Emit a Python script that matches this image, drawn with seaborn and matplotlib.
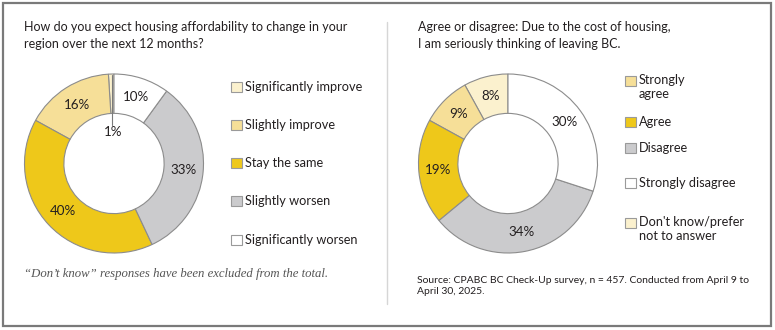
import matplotlib
matplotlib.use("Agg")
import matplotlib.pyplot as plt
from matplotlib.patches import Rectangle
from matplotlib.lines import Line2D
import numpy as np
import seaborn as sns

# ---------------- data ----------------
left_title = "How do you expect housing affordability to change in your\nregion over the next 12 months?"
left_categories = ["Significantly improve", "Slightly improve", "Stay the same",
                   "Slightly worsen", "Significantly worsen"]
left_values = [1, 16, 40, 33, 10]
left_colors = ["#FBF1CE", "#F6DF98", "#EEC81A", "#CBCBCD", "#FFFFFF"]

right_title = "Agree or disagree: Due to the cost of housing,\nI am seriously thinking of leaving BC."
right_categories = ["Strongly\nagree", "Agree", "Disagree", "Strongly disagree",
                    "Don't know/prefer\nnot to answer"]
right_values = [9, 19, 34, 30, 8]
right_colors = ["#F6DF98", "#EEC81A", "#CBCBCD", "#FFFFFF", "#FBF1CE"]
right_plot_order = [4, 0, 1, 2, 3]   # counter-clockwise from 12 o'clock

footnote = "\u201cDon\u2019t know\u201d responses have been excluded from the total."
source = "Source: CPABC BC Check-Up survey, n = 457. Conducted from April 9 to\nApril 30, 2025."

# ---------------- style ----------------
sns.set_theme(style="white")
plt.rcParams["font.family"] = ["Lato", "DejaVu Sans"]

W, H = 775, 330
fig = plt.figure(figsize=(W / 100, H / 100), dpi=100)
fig.patch.set_facecolor("white")


def fx(x):
    return x / W


def fy(y):
    return 1 - y / H


EDGE = "#8c8c8c"
TXT = "#231f20"

# border and divider
fig.patches.append(Rectangle((fx(2.5), fy(326)), fx(771) - fx(2.5), fy(2.5) - fy(326),
                             transform=fig.transFigure, fill=False,
                             edgecolor="#7a7a7a", linewidth=1.6))
fig.lines.append(Line2D([fx(386.5), fx(386.5)], [fy(22), fy(304)],
                        transform=fig.transFigure, color="#d6d6d6", linewidth=1.0))


def donut(cx, cy, values, colors, R=89.5):
    ax = fig.add_axes([fx(cx - 90), fy(cy + 90), 180 / W, 180 / H])
    wedges, texts, autotexts = ax.pie(
        values, colors=colors, startangle=90, counterclock=True,
        radius=R / 90,
        wedgeprops=dict(width=0.44 * R / 90, edgecolor=EDGE, linewidth=0.8),
        autopct=lambda p: f"{int(round(p))}%", pctdistance=0.78,
        textprops=dict(fontsize=9.6, color=TXT))
    ax.set_xlim(-1, 1)
    ax.set_ylim(-1, 1)
    ax.set_aspect("equal")
    ax.axis("off")
    return ax, wedges, autotexts


# left donut
axL, wL, tL = donut(114, 163.5, left_values, left_colors)
for w, t, v in zip(wL, tL, left_values):
    if v < 3:
        mid = np.deg2rad((w.theta1 + w.theta2) / 2)
        r = w.r
        x = np.cos(mid) * r
        axL.plot([x + 0.01, x + 0.01], [r * 0.99, r * 0.43], color="#7a7a7a", lw=0.8)
        t.set_position((x + 0.02, 0.35))
        t.set_ha("center")

# right donut
rv = [right_values[i] for i in right_plot_order]
rc = [right_colors[i] for i in right_plot_order]
axR, wR, tR = donut(508, 163.5, rv, rc)

# titles
fig.text(fx(24), fy(21), left_title, ha="left", va="top", fontsize=9.0,
         color=TXT, linespacing=1.45)
fig.text(fx(418), fy(21), right_title, ha="left", va="top", fontsize=9.0,
         color=TXT, linespacing=1.45)


def legend_item(x, y, label, color, text_x):
    fig.patches.append(Rectangle((fx(x), fy(y + 5)), 11 / W, 10 / H,
                                 transform=fig.transFigure, facecolor=color,
                                 edgecolor="#9a9a9a", linewidth=0.8))
    fig.text(fx(text_x), fy(y), label, ha="left", va="center",
             fontsize=9.2, color=TXT, linespacing=1.3)


# left legend
left_rows = [87, 125, 163, 201, 240]
for lab, col, y in zip(left_categories, left_colors, left_rows):
    legend_item(230.5, y, lab, col, 245)

# right legend
right_rows = [81, 122, 148, 183, 223]
for lab, col, y in zip(right_categories, right_colors, right_rows):
    if "\n" in lab:
        fig.patches.append(Rectangle((fx(624.5), fy(y + 5)), 11 / W, 10 / H,
                                     transform=fig.transFigure, facecolor=col,
                                     edgecolor="#9a9a9a", linewidth=0.8))
        fig.text(fx(639), fy(y - 7.5), lab, ha="left", va="top",
                 fontsize=9.2, color=TXT, linespacing=1.3)
    else:
        legend_item(624.5, y, lab, col, 639)

# footnotes
fig.text(fx(24), fy(274), footnote, ha="left", va="center", fontsize=9.2,
         color="#555555", style="italic", family=["Liberation Serif", "DejaVu Serif"])
fig.text(fx(417), fy(276), source, ha="left", va="top", fontsize=7.5,
         color=TXT, linespacing=1.35)

fig.savefig("out.png", dpi=100, facecolor="white")
